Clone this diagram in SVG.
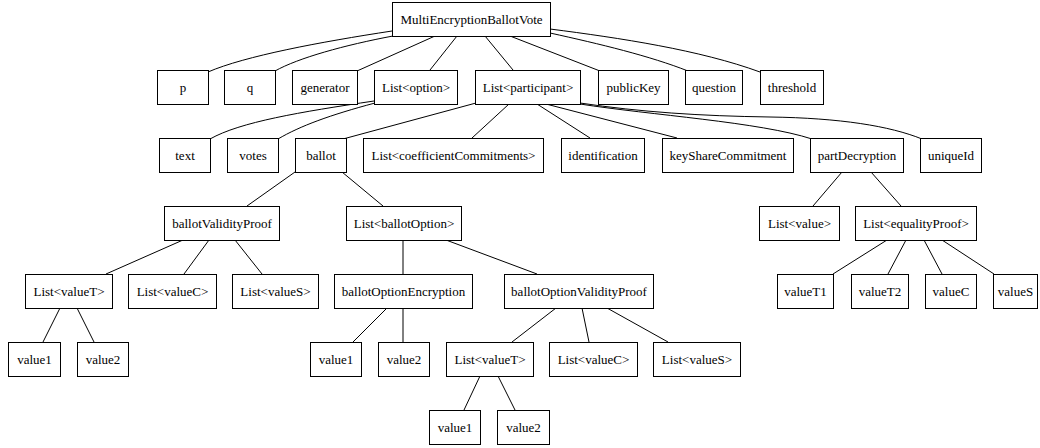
<svg xmlns="http://www.w3.org/2000/svg" width="1040" height="448" viewBox="0 0 1040 448">
  <style>
    .node rect { fill: #fff; stroke: #000; stroke-width: 1; }
    .node text { font-family: "Liberation Serif", "Times New Roman", serif; font-size: 13px; fill: #000; text-anchor: middle; }
    #edges path { fill: none; stroke: #000; stroke-width: 1; }
  </style>
  <rect width="1040" height="448" fill="#fff"/>

  <!-- connectors -->
  <g id="edges">
    <!-- MultiEncryptionBallotVote -->
    <path d="M392,31 C320,42 245,56 208,72"/>
    <path d="M393,36 C345,45 298,58 275,71"/>
    <path d="M435,36 L357,71"/>
    <path d="M457,36 L430,70"/>
    <path d="M485,36 L513,70"/>
    <path d="M510,36 L600,71"/>
    <path d="M550,33 C600,44 650,56 688,71"/>
    <path d="M550,29 C620,38 700,50 760,72"/>
    <!-- List<option> -->
    <path d="M374,101 C300,112 240,122 210,139"/>
    <path d="M375,103 C330,115 300,126 278,139"/>
    <!-- List<participant> -->
    <path d="M476,103 L343,139"/>
    <path d="M509,104 L472,138"/>
    <path d="M537,104 L590,138"/>
    <path d="M546,104 L677,138"/>
    <path d="M580,104 C650,115 760,122 812,139"/>
    <path d="M580,103 C640,112 700,116 770,117 C840,118 890,126 922,139"/>
    <!-- ballot -->
    <path d="M295,172 L247,206"/>
    <path d="M342,172 L383,206"/>
    <!-- ballotValidityProof -->
    <path d="M183,240 L106,274"/>
    <path d="M209,240 L184,274"/>
    <path d="M235,240 L262,274"/>
    <!-- List<ballotOption> -->
    <path d="M403,240 L403,274"/>
    <path d="M446,240 L537,274"/>
    <!-- List<valueT> -->
    <path d="M60,308 L43,342"/>
    <path d="M77,308 L94,342"/>
    <!-- ballotOptionEncryption -->
    <path d="M387,308 L353,342"/>
    <path d="M403,308 L403,342"/>
    <!-- ballotOptionValidityProof -->
    <path d="M556,308 L512,342"/>
    <path d="M582,308 L589,342"/>
    <path d="M607,308 L668,342"/>
    <!-- List<valueT> (option proof) -->
    <path d="M480,376 L464,410"/>
    <path d="M498,376 L515,410"/>
    <!-- partDecryption -->
    <path d="M842,172 L813,206"/>
    <path d="M871,172 L901,206"/>
    <!-- List<equalityProof> -->
    <path d="M887,240 L833,274"/>
    <path d="M906,240 L888,274"/>
    <path d="M924,240 L942,274"/>
    <path d="M942,240 L994,274"/>
  </g>

  <!-- rank 0 -->
  <g id="root" class="node"><rect x="392.5" y="2.5" width="158" height="34"/><text x="471.5" y="24">MultiEncryptionBallotVote</text></g>

  <!-- rank 1 -->
  <g id="p" class="node"><rect x="157.5" y="70.5" width="51" height="34"/><text x="183" y="92">p</text></g>
  <g id="q" class="node"><rect x="224.5" y="70.5" width="51" height="34"/><text x="250" y="92">q</text></g>
  <g id="generator" class="node"><rect x="292.5" y="70.5" width="65" height="34"/><text x="325" y="92">generator</text></g>
  <g id="options" class="node"><rect x="374.5" y="70.5" width="83" height="34"/><text x="416" y="92">List&lt;option&gt;</text></g>
  <g id="participants" class="node"><rect x="475.5" y="70.5" width="105" height="34"/><text x="528" y="92">List&lt;participant&gt;</text></g>
  <g id="publicKey" class="node"><rect x="598.5" y="70.5" width="70" height="34"/><text x="633.5" y="92">publicKey</text></g>
  <g id="question" class="node"><rect x="685.5" y="70.5" width="57" height="34"/><text x="714" y="92">question</text></g>
  <g id="threshold" class="node"><rect x="760.5" y="70.5" width="63" height="34"/><text x="792" y="92">threshold</text></g>

  <!-- rank 2 -->
  <g id="text" class="node"><rect x="159.5" y="138.5" width="51" height="34"/><text x="185" y="160">text</text></g>
  <g id="votes" class="node"><rect x="227.5" y="138.5" width="51" height="34"/><text x="253" y="160">votes</text></g>
  <g id="ballot" class="node"><rect x="295.5" y="138.5" width="51" height="34"/><text x="321" y="160">ballot</text></g>
  <g id="coefficientCommitments" class="node"><rect x="363.5" y="138.5" width="180" height="34"/><text x="453.5" y="160">List&lt;coefficientCommitments&gt;</text></g>
  <g id="identification" class="node"><rect x="561.5" y="138.5" width="83" height="34"/><text x="603" y="160">identification</text></g>
  <g id="keyShareCommitment" class="node"><rect x="662.5" y="138.5" width="131" height="34"/><text x="728" y="160">keyShareCommitment</text></g>
  <g id="partDecryption" class="node"><rect x="810.5" y="138.5" width="93" height="34"/><text x="857" y="160">partDecryption</text></g>
  <g id="uniqueId" class="node"><rect x="920.5" y="138.5" width="61" height="34"/><text x="951" y="160">uniqueId</text></g>

  <!-- rank 3 -->
  <g id="ballotValidityProof" class="node"><rect x="164.5" y="206.5" width="115" height="34"/><text x="222" y="228">ballotValidityProof</text></g>
  <g id="ballotOptions" class="node"><rect x="346.5" y="206.5" width="115" height="34"/><text x="404" y="228">List&lt;ballotOption&gt;</text></g>
  <g id="values" class="node"><rect x="759.5" y="206.5" width="80" height="34"/><text x="799.5" y="228">List&lt;value&gt;</text></g>
  <g id="equalityProofs" class="node"><rect x="855.5" y="206.5" width="121" height="34"/><text x="916" y="228">List&lt;equalityProof&gt;</text></g>

  <!-- rank 4 -->
  <g id="bvp_valueT" class="node"><rect x="25.5" y="274.5" width="87" height="34"/><text x="69" y="296">List&lt;valueT&gt;</text></g>
  <g id="bvp_valueC" class="node"><rect x="128.5" y="274.5" width="88" height="34"/><text x="172.5" y="296">List&lt;valueC&gt;</text></g>
  <g id="bvp_valueS" class="node"><rect x="232.5" y="274.5" width="86" height="34"/><text x="275.5" y="296">List&lt;valueS&gt;</text></g>
  <g id="ballotOptionEncryption" class="node"><rect x="334.5" y="274.5" width="138" height="34"/><text x="403.5" y="296">ballotOptionEncryption</text></g>
  <g id="ballotOptionValidityProof" class="node"><rect x="504.5" y="274.5" width="149" height="34"/><text x="579" y="296">ballotOptionValidityProof</text></g>
  <g id="valueT1" class="node"><rect x="777.5" y="274.5" width="56" height="34"/><text x="805.5" y="296">valueT1</text></g>
  <g id="valueT2" class="node"><rect x="851.5" y="274.5" width="57" height="34"/><text x="880" y="296">valueT2</text></g>
  <g id="eq_valueC" class="node"><rect x="925.5" y="274.5" width="51" height="34"/><text x="951" y="296">valueC</text></g>
  <g id="eq_valueS" class="node"><rect x="993.5" y="274.5" width="44" height="34"/><text x="1015.5" y="296">valueS</text></g>

  <!-- rank 5 -->
  <g id="bvp_value1" class="node"><rect x="8.5" y="342.5" width="52" height="34"/><text x="34.5" y="364">value1</text></g>
  <g id="bvp_value2" class="node"><rect x="77.5" y="342.5" width="51" height="34"/><text x="103" y="364">value2</text></g>
  <g id="enc_value1" class="node"><rect x="310.5" y="342.5" width="51" height="34"/><text x="336" y="364">value1</text></g>
  <g id="enc_value2" class="node"><rect x="378.5" y="342.5" width="51" height="34"/><text x="404" y="364">value2</text></g>
  <g id="bovp_valueT" class="node"><rect x="446.5" y="342.5" width="87" height="34"/><text x="490" y="364">List&lt;valueT&gt;</text></g>
  <g id="bovp_valueC" class="node"><rect x="549.5" y="342.5" width="88" height="34"/><text x="593.5" y="364">List&lt;valueC&gt;</text></g>
  <g id="bovp_valueS" class="node"><rect x="653.5" y="342.5" width="87" height="34"/><text x="697" y="364">List&lt;valueS&gt;</text></g>

  <!-- rank 6 -->
  <g id="bovp_value1" class="node"><rect x="429.5" y="410.5" width="51" height="34"/><text x="455" y="432">value1</text></g>
  <g id="bovp_value2" class="node"><rect x="497.5" y="410.5" width="52" height="34"/><text x="523.5" y="432">value2</text></g>
</svg>
